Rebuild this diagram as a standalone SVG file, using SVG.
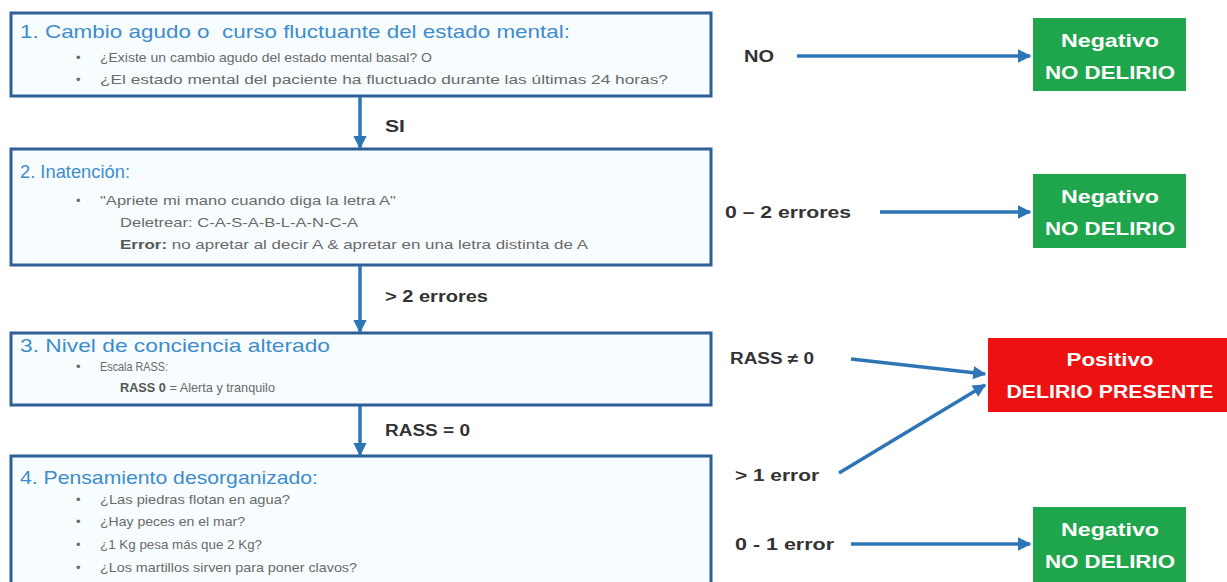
<svg xmlns="http://www.w3.org/2000/svg" width="1227" height="582" viewBox="0 0 1227 582">
<style>
.box{fill:#f7fcff;stroke:#2f5f98;stroke-width:3}
.ttl{font-family:"Liberation Sans",Arial,sans-serif;font-size:19px;fill:#3f8ccb}
.txt{font-family:"Liberation Sans",Arial,sans-serif;font-size:13px;fill:#6a6a6a}
.b{font-weight:bold;fill:#555}
.lbl{font-family:"Liberation Sans",Arial,sans-serif;font-size:16px;font-weight:bold;fill:#333}
.res{font-family:"Liberation Sans",Arial,sans-serif;font-size:19px;font-weight:bold;fill:#ffffff;text-anchor:middle}
.neg{fill:#1fa64c}
.pos{fill:#ee1111}
.con{stroke:#2e75b6;stroke-width:3.5;fill:none;marker-end:url(#ah)}
</style>
<defs>
<marker id="ah" viewBox="0 0 10 10" refX="9" refY="5" markerWidth="3.8" markerHeight="3.8" orient="auto" markerUnits="strokeWidth">
<path d="M0,0 L10,5 L0,10 z" fill="#2e75b6"/>
</marker>
</defs>
<rect width="1227" height="582" fill="#ffffff"/>

<g id="node1">
<rect class="box" x="11" y="13" width="700" height="83"/>
<text class="ttl" x="20" y="38" textLength="550" lengthAdjust="spacingAndGlyphs" xml:space="preserve">1. Cambio agudo o  curso fluctuante del estado mental:</text>
<text class="txt" x="76" y="62">•</text>
<text class="txt" x="100" y="62" textLength="332" lengthAdjust="spacingAndGlyphs">¿Existe un cambio agudo del estado mental basal? O</text>
<text class="txt" x="76" y="84">•</text>
<text class="txt" x="100" y="84" textLength="568" lengthAdjust="spacingAndGlyphs">¿El estado mental del paciente ha fluctuado durante las últimas 24 horas?</text>
</g>

<g id="node2">
<rect class="box" x="11" y="149" width="700" height="116"/>
<text class="ttl" x="20" y="178" textLength="110" lengthAdjust="spacingAndGlyphs">2. Inatención:</text>
<text class="txt" x="76" y="205">•</text>
<text class="txt" x="100" y="205" textLength="296" lengthAdjust="spacingAndGlyphs">"Apriete mi mano cuando diga la letra A"</text>
<text class="txt" x="120" y="227" textLength="238" lengthAdjust="spacingAndGlyphs">Deletrear: C-A-S-A-B-L-A-N-C-A</text>
<text class="txt" x="120" y="249" textLength="468" lengthAdjust="spacingAndGlyphs"><tspan class="b">Error:</tspan> no apretar al decir A &amp; apretar en una letra distinta de A</text>
</g>

<g id="node3">
<rect class="box" x="11" y="333" width="700" height="72"/>
<text class="ttl" x="20" y="352" textLength="310" lengthAdjust="spacingAndGlyphs">3. Nivel de conciencia alterado</text>
<text class="txt" x="76" y="371">•</text>
<text class="txt" x="100" y="371" textLength="68" lengthAdjust="spacingAndGlyphs">Escala RASS:</text>
<text class="txt" x="120" y="392" textLength="155" lengthAdjust="spacingAndGlyphs"><tspan class="b">RASS 0</tspan> = Alerta y tranquilo</text>
</g>

<g id="node4">
<rect class="box" x="11" y="456" width="700" height="130"/>
<text class="ttl" x="20" y="484" textLength="298" lengthAdjust="spacingAndGlyphs">4. Pensamiento desorganizado:</text>
<text class="txt" x="76" y="504">•</text>
<text class="txt" x="100" y="504" textLength="190" lengthAdjust="spacingAndGlyphs">¿Las piedras flotan en agua?</text>
<text class="txt" x="76" y="526">•</text>
<text class="txt" x="100" y="526" textLength="145" lengthAdjust="spacingAndGlyphs">¿Hay peces en el mar?</text>
<text class="txt" x="76" y="549">•</text>
<text class="txt" x="100" y="549" textLength="162" lengthAdjust="spacingAndGlyphs">¿1 Kg pesa más que 2 Kg?</text>
<text class="txt" x="76" y="572">•</text>
<text class="txt" x="100" y="572" textLength="257" lengthAdjust="spacingAndGlyphs">¿Los martillos sirven para poner clavos?</text>
</g>

<g id="neg1">
<rect class="neg" x="1033" y="18" width="153" height="73"/>
<text class="res" x="1110" y="47" textLength="98" lengthAdjust="spacingAndGlyphs">Negativo</text>
<text class="res" x="1110" y="79" textLength="130" lengthAdjust="spacingAndGlyphs">NO DELIRIO</text>
</g>
<g id="neg2">
<rect class="neg" x="1033" y="174" width="153" height="74"/>
<text class="res" x="1110" y="203" textLength="98" lengthAdjust="spacingAndGlyphs">Negativo</text>
<text class="res" x="1110" y="235" textLength="130" lengthAdjust="spacingAndGlyphs">NO DELIRIO</text>
</g>
<g id="pos">
<rect class="pos" x="988" y="338" width="239" height="74"/>
<text class="res" x="1110" y="366" textLength="87" lengthAdjust="spacingAndGlyphs">Positivo</text>
<text class="res" x="1110" y="398" textLength="207" lengthAdjust="spacingAndGlyphs">DELIRIO PRESENTE</text>
</g>
<g id="neg3">
<rect class="neg" x="1033" y="507" width="153" height="75"/>
<text class="res" x="1110" y="536" textLength="98" lengthAdjust="spacingAndGlyphs">Negativo</text>
<text class="res" x="1110" y="568" textLength="130" lengthAdjust="spacingAndGlyphs">NO DELIRIO</text>
</g>

<g id="connectors">
<line class="con" x1="360" y1="97" x2="360" y2="148"/>
<line class="con" x1="360" y1="266" x2="360" y2="332"/>
<line class="con" x1="360" y1="406" x2="360" y2="455"/>
<line class="con" x1="797" y1="56" x2="1030" y2="56"/>
<line class="con" x1="880" y1="212" x2="1030" y2="212"/>
<line class="con" x1="851" y1="359" x2="985" y2="374"/>
<line class="con" x1="839" y1="473" x2="985" y2="385"/>
<line class="con" x1="851" y1="544" x2="1030" y2="544"/>
<text class="lbl" x="385" y="132" textLength="20" lengthAdjust="spacingAndGlyphs">SI</text>
<text class="lbl" x="385" y="302" textLength="103" lengthAdjust="spacingAndGlyphs">&gt; 2 errores</text>
<text class="lbl" x="385" y="436" textLength="85" lengthAdjust="spacingAndGlyphs">RASS = 0</text>
<text class="lbl" x="744" y="62" textLength="30" lengthAdjust="spacingAndGlyphs">NO</text>
<text class="lbl" x="725" y="218" textLength="126" lengthAdjust="spacingAndGlyphs">0 – 2 errores</text>
<text class="lbl" x="730" y="364" textLength="84" lengthAdjust="spacingAndGlyphs">RASS ≠ 0</text>
<text class="lbl" x="735" y="481" textLength="84" lengthAdjust="spacingAndGlyphs">&gt; 1 error</text>
<text class="lbl" x="735" y="550" textLength="99" lengthAdjust="spacingAndGlyphs">0 - 1 error</text>
</g>
</svg>
